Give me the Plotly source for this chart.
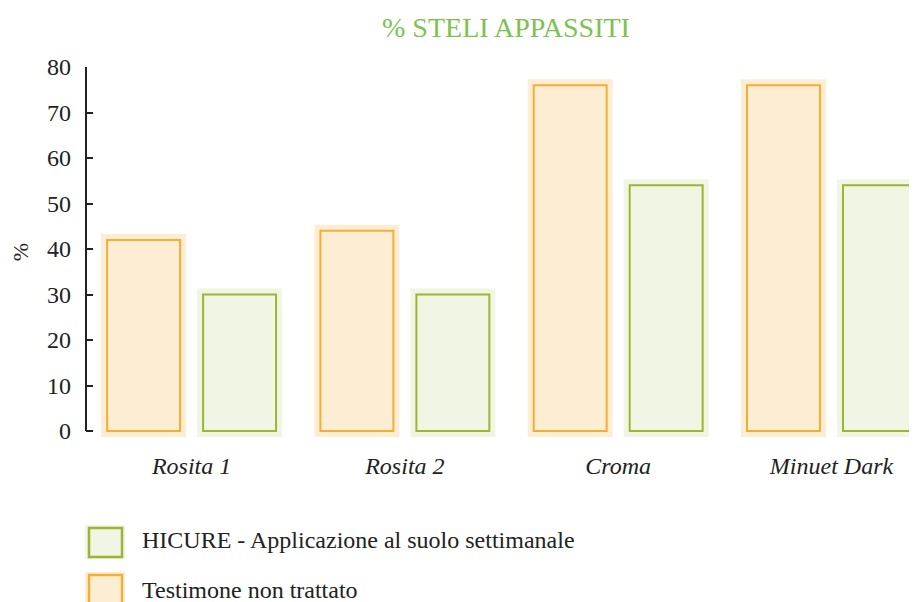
import plotly.graph_objects as go

categories = ["Rosita 1", "Rosita 2", "Croma", "Minuet Dark"]
testimone = [42, 44, 76, 76]
hicure = [30, 30, 54, 54]
yticks = [0, 10, 20, 30, 40, 50, 60, 70, 80]
title_text = "% STELI APPASSITI"
legend_labels = ["HICURE - Applicazione al suolo settimanale", "Testimone non trattato"]

OR_LINE = "#f5ae35"
OR_FILL = "#fdeed3"
GR_LINE = "#9db531"
GR_FILL = "#f1f5e4"

# the page is offset by the 8px body margin; figure sized to fit in the window
OFF = 8
W, H = 917 - OFF, 602 - OFF
L, R, T, B = 86 - OFF, 0, 67 - OFF, 165
PW, PH = W - L - R, H - T - B
YMIN, YMAX = -1.3, 80
XR = [-0.495, 3.401]
BW = 0.342

def px(x):
    return (x - OFF - L) / PW

def py(y):
    return (H - B - (y - OFF)) / PH

fig = go.Figure()
# sketchy fill halo behind each bar
for vals, fill, off in [(testimone, OR_FILL, -0.396), (hicure, GR_FILL, 0.054)]:
    fig.add_trace(go.Bar(x=categories, y=vals, width=BW, offset=off,
                         marker=dict(color=fill, line=dict(color=fill, width=12)),
                         showlegend=False, hoverinfo="skip"))
for vals, fill, line, off, name in [(testimone, OR_FILL, OR_LINE, -0.396, legend_labels[1]),
                                    (hicure, GR_FILL, GR_LINE, 0.054, legend_labels[0])]:
    fig.add_trace(go.Bar(x=categories, y=vals, width=BW, offset=off, name=name,
                         marker=dict(color=fill, line=dict(color=line, width=2)),
                         showlegend=False))

fig.update_layout(
    width=W, height=H,
    margin=dict(l=L, r=R, t=T, b=B, pad=0),
    barmode="overlay",
    plot_bgcolor="white", paper_bgcolor="white",
    font=dict(family="Liberation Serif, DejaVu Serif, serif", color="#222222", size=24),
    title=dict(text=title_text, x=(506 - OFF) / W, xanchor="center", y=1 - (27 - OFF) / H,
               yanchor="middle",
               font=dict(color="#7cc24f", size=28, family="Liberation Serif, serif")),
    showlegend=False,
)
fig.update_xaxes(range=XR, showline=False, showgrid=False, ticks="", zeroline=False,
                 tickfont=dict(size=24, family="Liberation Serif, serif", style="italic"),
                 ticklabelstandoff=12)
fig.update_yaxes(range=[YMIN, YMAX], tickvals=yticks, showline=False, showgrid=False,
                 zeroline=False, ticks="inside", ticklen=7, tickwidth=1.5, tickcolor="#222222",
                 tickfont=dict(size=24), ticklabelstandoff=14,
                 title=dict(text="%", font=dict(size=22), standoff=20))

# y axis line from 0 to 80
fig.add_shape(type="line", xref="paper", yref="y", x0=0, x1=0, y0=0, y1=80,
              line=dict(color="#222222", width=2))

# custom legend
for (y0, y1, fill, line, label, ty) in [(528, 557, GR_FILL, GR_LINE, legend_labels[0], 540),
                                        (575, 606, OR_FILL, OR_LINE, legend_labels[1], 590)]:
    fig.add_shape(type="rect", xref="paper", yref="paper",
                  x0=px(85), x1=px(125), y0=py(y1 + 2), y1=py(y0 - 3),
                  fillcolor=fill, line=dict(width=0), layer="above")
    fig.add_shape(type="rect", xref="paper", yref="paper",
                  x0=px(89), x1=px(122), y0=py(y1), y1=py(y0),
                  fillcolor=fill, line=dict(color=line, width=2.5), layer="above")
    fig.add_annotation(xref="paper", yref="paper", x=px(140), y=py(ty), text=label,
                       showarrow=False, xanchor="left", yanchor="middle",
                       font=dict(size=24, color="#222222"))

fig.write_html("out.html")
